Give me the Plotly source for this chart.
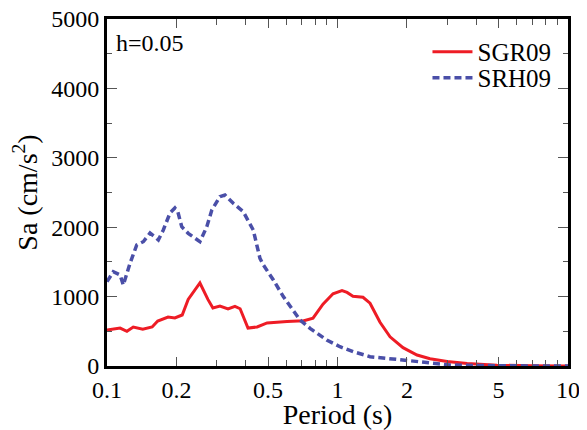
import plotly.graph_objects as go

# SGR09 (solid red)
sgr_period = [0.100, 0.114, 0.122, 0.130, 0.143, 0.157, 0.166, 0.184, 0.197, 0.212,
              0.225, 0.253, 0.274, 0.288, 0.309, 0.335, 0.359, 0.378, 0.409, 0.448,
              0.495, 0.547, 0.604, 0.674, 0.709, 0.783, 0.865, 0.956, 1.046, 1.10,
              1.167, 1.29, 1.384, 1.529, 1.69, 1.924, 2.213, 2.52, 2.99, 3.65,
              4.92, 7.0, 10.0]
sgr_sa = [519, 547, 500, 562, 530, 562, 648, 706, 692, 735,
          960, 1196, 960, 836, 864, 821, 860, 825, 547, 562,
          620, 634, 640, 650, 650, 690, 890, 1040, 1085, 1060,
          1005, 990, 905, 630, 420, 264, 158, 105, 65, 35,
          12, 3, 0]

# SRH09 (dashed blue)
srh_period = [0.100, 0.1065, 0.114, 0.1177, 0.126, 0.1346, 0.1437, 0.1537, 0.167, 0.1755,
              0.1877, 0.197, 0.203, 0.211, 0.225, 0.253, 0.271, 0.285, 0.309, 0.325,
              0.353, 0.390, 0.431, 0.461, 0.477, 0.527, 0.582, 0.633, 0.688, 0.760,
              0.898, 1.025, 1.171, 1.384, 1.69, 2.06, 2.60, 3.08, 5.0, 10.0]
srh_sa = [1215, 1359, 1311, 1167, 1484, 1744, 1791, 1916, 1816, 1960,
          2205, 2277, 2219, 2007, 1912, 1791, 2007, 2248, 2440, 2464,
          2344, 2223, 1960, 1550, 1455, 1239, 1000, 831, 663, 543,
          375, 278, 206, 134, 111, 76, 39, 14, 3, 0]

x_tickvals = [0.1, 0.2, 0.5, 1, 2, 5, 10]
x_ticktext = ["0.1", "0.2", "0.5", "1", "2", "5", "10"]
x_minorvals = [0.3, 0.4, 0.6, 0.7, 0.8, 0.9, 3, 4, 6, 7, 8, 9]
y_tickvals = [0, 1000, 2000, 3000, 4000, 5000]

FONT = "Liberation Serif"

fig = go.Figure()
fig.add_trace(go.Scatter(x=sgr_period, y=sgr_sa, mode="lines", name="SGR09",
                         legend="legend",
                         line=dict(color="#ee1c25", width=3)))
fig.add_trace(go.Scatter(x=srh_period, y=srh_sa, mode="lines", name="SRH09",
                         legend="legend2",
                         line=dict(color="#4a4fa8", width=3.5, dash="7px,4px")))

leg_common = dict(xanchor="right", yanchor="middle", bgcolor="rgba(0,0,0,0)",
                  font=dict(family=FONT, size=25, color="black"), itemwidth=40)

# page body adds an 8px offset, so the figure is 8px smaller and margins shifted
fig.update_layout(
    width=579, height=422,
    autosize=False,
    margin=dict(l=99, r=19, t=11, b=64, autoexpand=False),
    paper_bgcolor="white", plot_bgcolor="white",
    font=dict(family=FONT, color="black", size=24),
    showlegend=True,
    legend=dict(x=0.975, y=0.905, **leg_common),
    legend2=dict(x=0.975, y=0.83, **leg_common),
    annotations=[
        dict(text="h=0.05", xref="paper", yref="paper", x=0.015, y=0.975,
             xanchor="left", yanchor="top", showarrow=False,
             font=dict(family=FONT, size=24)),
        dict(text="10", xref="paper", yref="paper", x=-0.223, y=-0.07,
             xanchor="right", yanchor="middle", showarrow=False,
             font=dict(family=FONT, size=24)),
    ],
)

fig.update_xaxes(
    type="log", range=[-1, 1],
    tickmode="array", tickvals=x_tickvals, ticktext=x_ticktext,
    ticks="inside", ticklen=9, tickwidth=1, tickcolor="#555",
    minor=dict(tickmode="array", tickvals=x_minorvals, ticks="inside",
               ticklen=6, tickwidth=1, tickcolor="#555", showgrid=False),
    showline=True, linecolor="black", linewidth=3, mirror="ticks",
    showgrid=False, zeroline=False, ticklabeloverflow="allow",
    tickfont=dict(family=FONT, size=24),
    title=dict(text="Period (s)", font=dict(family=FONT, size=28), standoff=0),
)
fig.update_yaxes(
    range=[0, 5000],
    tickmode="array", tickvals=y_tickvals,
    ticks="inside", ticklen=10, tickwidth=1, tickcolor="#555",
    minor=dict(dtick=500, ticks="inside", ticklen=5, tickwidth=1,
               tickcolor="#555", showgrid=False),
    showline=True, linecolor="black", linewidth=3, mirror="ticks",
    showgrid=False, zeroline=False, ticklabeloverflow="allow",
    tickfont=dict(family=FONT, size=24),
    title=dict(text="Sa (cm/s<sup>2</sup>)", font=dict(family=FONT, size=28), standoff=6),
)

fig.write_html("out.html")
